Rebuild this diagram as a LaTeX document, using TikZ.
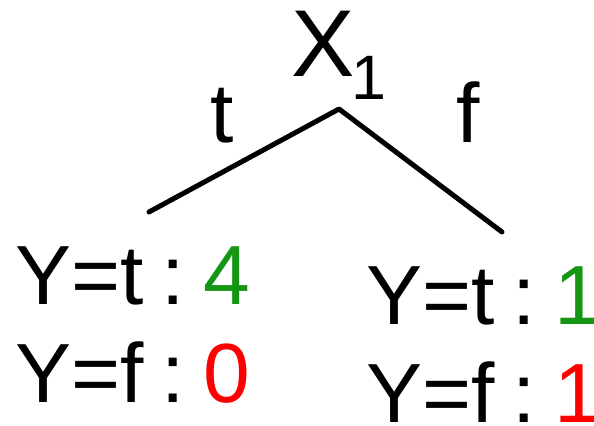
\documentclass[tikz,border=0pt]{standalone}
\usepackage{fontspec}
\setmainfont{Liberation Sans}
\definecolor{cntgreen}{RGB}{20,150,20}
\definecolor{cntred}{RGB}{255,0,0}
\begin{document}
\begin{tikzpicture}[x=0.5pt,y=-0.5pt,line join=round,line cap=round,
	every node/.style={inner sep=0pt,anchor=base west},
	big/.style={font=\fontsize{42}{50}\selectfont},
	edge/.style={line width=2.5pt}]
			\useasboundingbox (0,0) rectangle (594,426);
			\node[font=\fontsize{47.5}{55}\selectfont] (root) at (291,77) {X\hspace{-1.5pt}\raisebox{-11.5pt}{\fontsize{31.4}{35}\selectfont 1}};
			\coordinate (split) at (339,109);
			\coordinate (lend) at (149,212);
			\coordinate (rend) at (502,232);
			\draw[edge] (lend)--(split)--(rend);
			\node[big,anchor=base] (lblt) at (222,143) {t};
			\node[big,anchor=base] (lblf) at (468,143) {f};
			\foreach \nm/\px/\py/\val/\cnt/\col in {ltt/15/305/t/4/cntgreen,ltf/15/403/f/0/cntred,rtt/366/325/t/1/cntgreen,rtf/366/423/f/1/cntred}
			\node[big] (\nm) at (\px,\py) {Y=\val\hspace{9pt}:\hspace{9pt}\textcolor{\col}{\cnt}\hspace{-6pt}};
		\end{tikzpicture}
\end{document}
